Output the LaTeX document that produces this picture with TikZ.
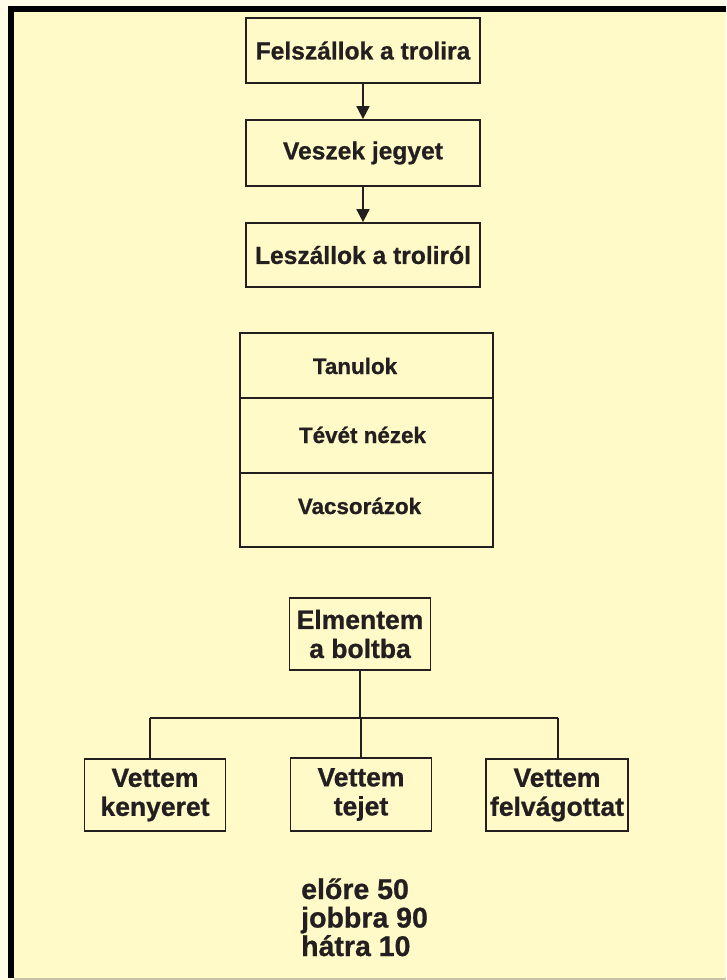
\documentclass[tikz,border=0pt]{standalone}
\usepackage{fontspec}
\setmainfont{Liberation Sans}
\newfontfamily\wf[BoldFeatures={FakeBold=0.8}]{Liberation Sans}
\usetikzlibrary{arrows.meta}
\definecolor{ink}{HTML}{231F20}
\definecolor{bgin}{HTML}{FFFAC8}
\definecolor{bgout}{HTML}{FFFDE8}
\definecolor{edge}{HTML}{C9C3A5}
\begin{document}
\begin{tikzpicture}[x=1pt,y=-1pt,
  ln/.style={draw=ink,line width=1.8pt},
  box/.style={ln,rectangle,inner sep=0pt,text=ink,align=center},
  lbl/.style={inner sep=0pt,text=ink},
  arr/.style={ln,-{Triangle[length=13pt,width=13pt]}},
  fa/.style={font=\wf\bfseries\fontsize{24.6}{28}\selectfont},
  fb/.style={font=\wf\bfseries\fontsize{22.4}{26}\selectfont},
  fc/.style={font=\wf\bfseries\fontsize{26.5}{29}\selectfont},
  fd/.style={font=\wf\bfseries\fontsize{28.5}{28}\selectfont}]
\useasboundingbox (0,0) rectangle (726,980);
\fill[bgout] (0,0) rectangle (726,980);
\fill[bgin] (8,6) rectangle (726,979);
\fill[black] (8,6) rectangle (726,12);
\fill[black] (8,6) rectangle (14,978);
\draw[edge,line width=1.2pt] (14,979) -- (726,979);
% sequence
\node[box,fa,minimum width=234pt,minimum height=65pt] (b1) at (363,50.5) {Felszállok a trolira};
\node[box,fa,minimum width=234pt,minimum height=66pt] (b2) at (363,153) {Veszek jegyet};
\node[box,fa,minimum width=234pt,minimum height=64pt] (b3) at (363,255) {Leszállok a troliról};
\draw[arr] (b1) -- (b2);
\draw[arr] (b2) -- (b3);
% stack
\node[box,minimum width=253pt,minimum height=65pt] (s1) at (366.5,365.5) {};
\node[box,minimum width=253pt,minimum height=75pt] (s2) at (366.5,435.5) {};
\node[box,minimum width=253pt,minimum height=74pt] (s3) at (366.5,510) {};
\node[lbl,fb,anchor=base] (t1) at (355,374) {Tanulok};
\node[lbl,fb,anchor=base] (t2) at (362.5,443) {Tévét nézek};
\node[lbl,fb,anchor=base] (t3) at (359.5,514) {Vacsorázok};
% tree
\node[box,fc,minimum width=141pt,minimum height=72pt] (top) at (360,634) {Elmentem\\a boltba};
\node[box,fc,minimum width=141pt,minimum height=72pt] (k1) at (155,795) {Vettem\\kenyeret};
\node[box,fc,minimum width=141pt,minimum height=73pt] (k2) at (361,794.5) {Vettem\\tejet};
\node[box,fc,minimum width=142pt,minimum height=72pt] (k3) at (557,795) {Vettem\\felvágottat};
\coordinate (hl) at (150,718);
\coordinate (hr) at (558,718);
\draw[ln] (top.south) -- (top.south |- hl);
\draw[ln] (hl) -- (hr);
\draw[ln] (hl) -- (hl |- k1.north);
\draw[ln] (k2.north |- hl) -- (k2.north);
\draw[ln] (hr) -- (hr |- k3.north);
% commands
\node[lbl,fd,anchor=base west] (c1) at (301,899) {előre 50};
\node[lbl,fd,anchor=base west] (c2) at (301,927.5) {jobbra 90};
\node[lbl,fd,anchor=base west] (c3) at (301,956) {hátra 10};
\end{tikzpicture}
\end{document}
